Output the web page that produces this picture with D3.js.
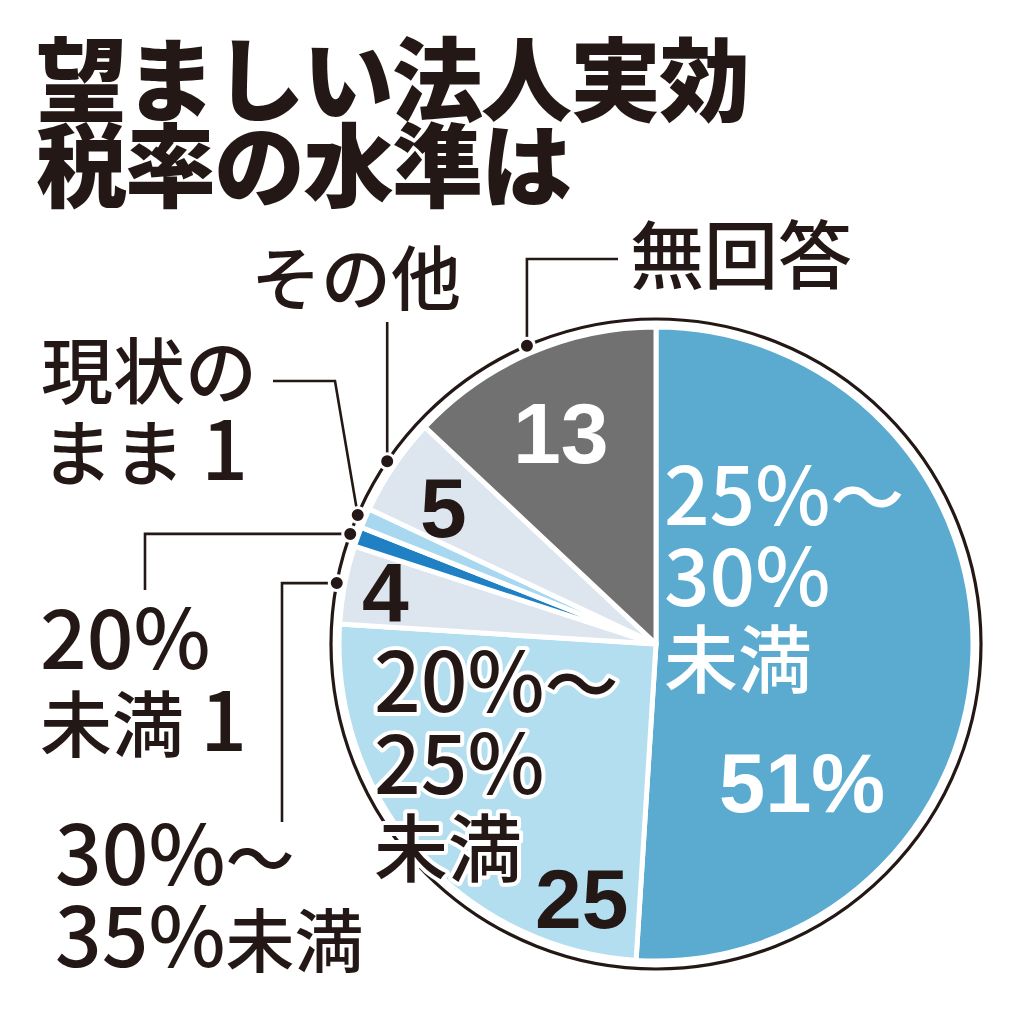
<!DOCTYPE html>
<html><head><meta charset="utf-8">
<script src="https://cdn.jsdelivr.net/npm/d3@7"></script>
<style>
html,body{margin:0;padding:0;background:#fff;}
svg{display:block;}
</style>
</head><body>
<svg id="chart" width="1024" height="1024"></svg>
<script>
// ---- data ----
const titleLines = ["望ましい法人実効", "税率の水準は"];
const categories = ["25%〜30%未満", "20%〜25%未満", "30%〜35%未満", "20%未満", "現状のまま", "その他", "無回答"];
const values = [51, 25, 4, 1, 1, 5, 13];
const sliceColors = ["#5aabcf", "#b3def0", "#dde5ef", "#1f80c3", "#a8d8ef", "#dde5ef", "#717171"];
// ---- layout ----
const cx = 656, cy = 644, R = 317, ringR = 325;
const svg = d3.select("#chart");
const JP = "'Noto Sans CJK JP','Noto Sans',sans-serif";
const LAT = "'Liberation Sans',Arial,sans-serif";
const INK = "#231815";

// title
svg.append("g").selectAll("text").data(titleLines).join("text")
  .attr("x", 36).attr("y", (d, i) => 114 + i * 86)
  .attr("font-family", JP).attr("font-weight", 900).attr("font-size", 91)
  .attr("letter-spacing", -2).attr("fill", INK).text(d => d);

const g = svg.append("g").attr("transform", `translate(${cx},${cy})`);
const pie = d3.pie().sort(null).value(d => d);
const arcs = pie(values);
const arc = d3.arc().innerRadius(0).outerRadius(R);

g.selectAll("path.slice").data(arcs).join("path")
  .attr("class", "slice")
  .attr("d", arc)
  .attr("fill", (d, i) => sliceColors[i])
  .attr("stroke", "#fff").attr("stroke-width", 5).attr("stroke-linejoin", "round");

// outer ring
g.append("circle").attr("r", ringR).attr("fill", "none").attr("stroke", INK).attr("stroke-width", 3.2);

// leader dots at slice mid angle on ring
const ringArc = d3.arc().innerRadius(ringR).outerRadius(ringR);
const dotPos = arcs.map(a => { const c = ringArc.centroid(a); return [c[0] + cx, c[1] + cy]; });

const leaders = [
  {i: 6, pts: p => [p, [p[0], 259], [618, 259]]},
  {i: 5, pts: p => [p, [p[0], 322]]},
  {i: 4, pts: p => [p, [335, 381], [273, 381]]},
  {i: 3, pts: p => [p, [145, p[1]], [145, 590]]},
  {i: 2, pts: p => [p, [282, p[1]], [282, 822]]}
];
const line = d3.line();
svg.append("g").selectAll("path").data(leaders).join("path")
  .attr("d", d => line(d.pts(dotPos[d.i])))
  .attr("fill", "none").attr("stroke", INK).attr("stroke-width", 2.6);
svg.append("g").selectAll("circle").data(leaders).join("circle")
  .attr("cx", d => dotPos[d.i][0]).attr("cy", d => dotPos[d.i][1]).attr("r", 7.5)
  .attr("fill", INK).attr("stroke", "#fff").attr("stroke-width", 3);

// mixed-size text: digits and % slightly larger than kana/kanji
function runs(s) { return s.match(/[0-9%]+|[^0-9%]+/g) || []; }
function mixedText(sel, lines, x, y, o) {
  const t = sel.append("g").selectAll("text").data(lines).join("text")
    .attr("x", x).attr("y", (d, i) => y + i * o.lh)
    .attr("font-family", JP).attr("font-weight", o.fw || 500)
    .attr("fill", o.fill)
    .attr("stroke", o.halo ? "#fff" : null).attr("stroke-width", o.halo ? 8 : null)
    .attr("stroke-linejoin", "round").attr("paint-order", "stroke");
  t.selectAll("tspan").data(d => runs(d)).join("tspan")
    .attr("font-size", r => /[0-9%]/.test(r) ? o.dfs : o.cfs)
    .text(r => r);
}

// outside labels
const outLabels = [
  {lines: ["無回答"], x: 630, y: 283, cfs: 74},
  {lines: ["その他"], x: 251, y: 305, cfs: 70},
  {lines: ["現状の", "まま 1"], x: 41, y: 398, cfs: 72},
  {lines: ["20%", "未満 1"], x: 40, y: 669, cfs: 72},
  {lines: ["30%〜", "35%未満"], x: 55, y: 885, cfs: 69}
];
outLabels.forEach(l => mixedText(svg, l.lines, l.x, l.y, {fill: INK, lh: 82, cfs: l.cfs, dfs: 82}));

// inside labels
mixedText(svg, ["25%〜", "30%", "未満"], 664, 525, {fill: "#fff", lh: 81, cfs: 74, dfs: 80});
mixedText(svg, ["20%〜", "25%", "未満"], 374, 712, {fill: INK, halo: true, lh: 82, cfs: 74, dfs: 82});

function numText(txt, x, y, fs, fill) {
  svg.append("text").attr("x", x).attr("y", y)
    .attr("font-family", LAT).attr("font-weight", 700).attr("font-size", fs)
    .attr("fill", fill).text(txt);
}
numText(values[0] + "%", 719, 812, 83, "#fff");
numText(String(values[1]), 535, 928, 84, INK);
numText(String(values[2]), 362, 622, 84, INK);
numText(String(values[5]), 420, 537, 84, INK);
numText(String(values[6]), 513, 463, 86, "#fff");
</script>
</body></html>
